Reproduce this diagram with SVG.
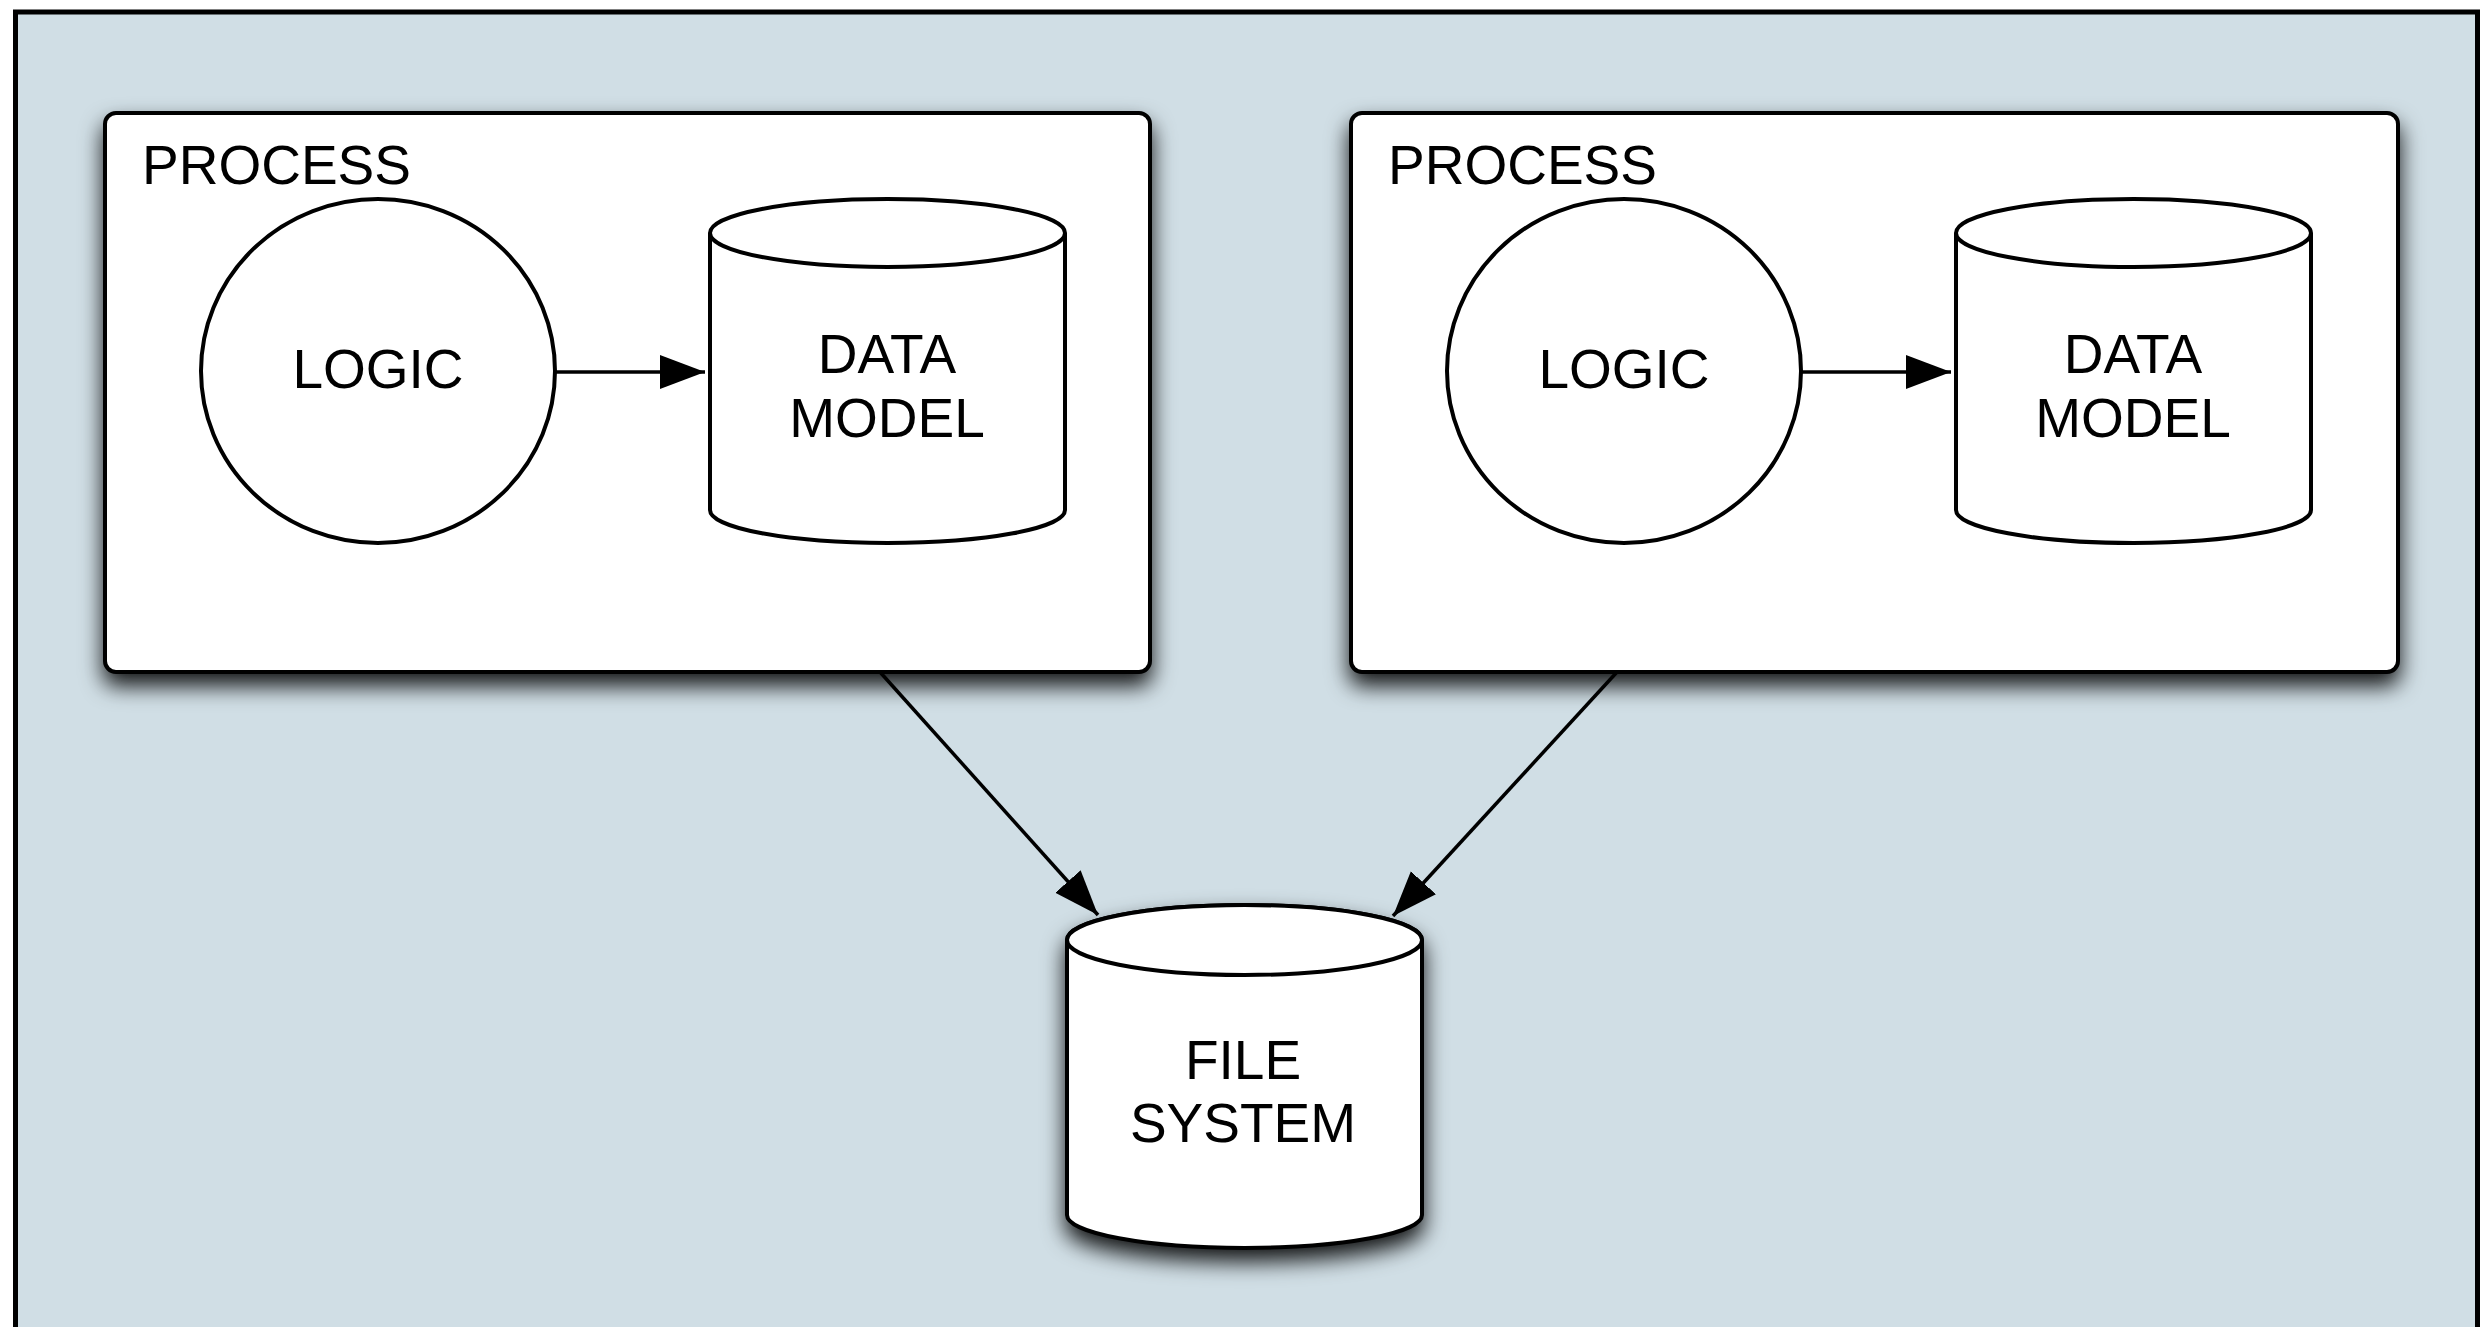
<svg xmlns="http://www.w3.org/2000/svg" width="2490" height="1327" viewBox="0 0 2490 1327">
<style>
.frame{fill:#d0dee5;stroke:#000;stroke-width:5}
.box{fill:#fff;stroke:#000;stroke-width:4}
.shape{fill:#fff;stroke:#000;stroke-width:4}
.conn{fill:none;stroke:#000;stroke-width:3.5}
text{font-family:"Liberation Sans",Arial,Helvetica,sans-serif;font-size:55px;fill:#000}
.c{text-anchor:middle}
</style>
<defs>
<filter id="shadow" x="-20%" y="-20%" width="140%" height="160%">
<feDropShadow dx="0" dy="12" stdDeviation="11" flood-color="#000" flood-opacity="0.9"/>
</filter>
<marker id="arrow" markerUnits="userSpaceOnUse" markerWidth="46" markerHeight="36" refX="45" refY="17" orient="auto">
<path d="M0,0 L45,17 L0,34 z" fill="#000"/>
</marker>
</defs>
<rect class="frame" x="15.5" y="12" width="2462" height="1400"/>

<g id="process1">
<rect class="box" x="105" y="113" width="1045" height="559" rx="11" filter="url(#shadow)"/>
<text x="142" y="184">PROCESS</text>
</g>
<g id="process2">
<rect class="box" x="1351" y="113" width="1047" height="559" rx="11" filter="url(#shadow)"/>
<text x="1388" y="184">PROCESS</text>
</g>

<g id="logic1">
<ellipse class="shape" cx="378" cy="371" rx="177" ry="172"/>
<text class="c" x="378" y="388">LOGIC</text>
</g>
<g id="datamodel1">
<path class="shape" d="M710,233 L710,510 A177.5,33 0 0 0 1065,510 L1065,233"/>
<ellipse class="shape" cx="887.5" cy="233" rx="177.5" ry="34"/>
<text class="c" x="887" y="373">DATA</text>
<text class="c" x="887" y="437">MODEL</text>
</g>

<g id="logic2">
<ellipse class="shape" cx="1624" cy="371" rx="177" ry="172"/>
<text class="c" x="1624" y="388">LOGIC</text>
</g>
<g id="datamodel2">
<path class="shape" d="M1956,233 L1956,510 A177.5,33 0 0 0 2311,510 L2311,233"/>
<ellipse class="shape" cx="2133.5" cy="233" rx="177.5" ry="34"/>
<text class="c" x="2133" y="373">DATA</text>
<text class="c" x="2133" y="437">MODEL</text>
</g>

<g id="filesystem">
<path class="shape" filter="url(#shadow)" d="M1067,940 L1067,1215 A177.5,33 0 0 0 1422,1215 L1422,940 A177.5,35 0 0 0 1067,940 z"/>
<ellipse class="shape" cx="1244.5" cy="940" rx="177.5" ry="35"/>
<text class="c" x="1243" y="1079">FILE</text>
<text class="c" x="1243" y="1142">SYSTEM</text>
</g>

<g id="connectors">
<line class="conn" x1="556" y1="372" x2="705" y2="372" marker-end="url(#arrow)"/>
<line class="conn" x1="1802" y1="372" x2="1951" y2="372" marker-end="url(#arrow)"/>
<line class="conn" x1="880" y1="672" x2="1098" y2="915" marker-end="url(#arrow)"/>
<line class="conn" x1="1617" y1="672" x2="1393" y2="916" marker-end="url(#arrow)"/>
</g>
</svg>
